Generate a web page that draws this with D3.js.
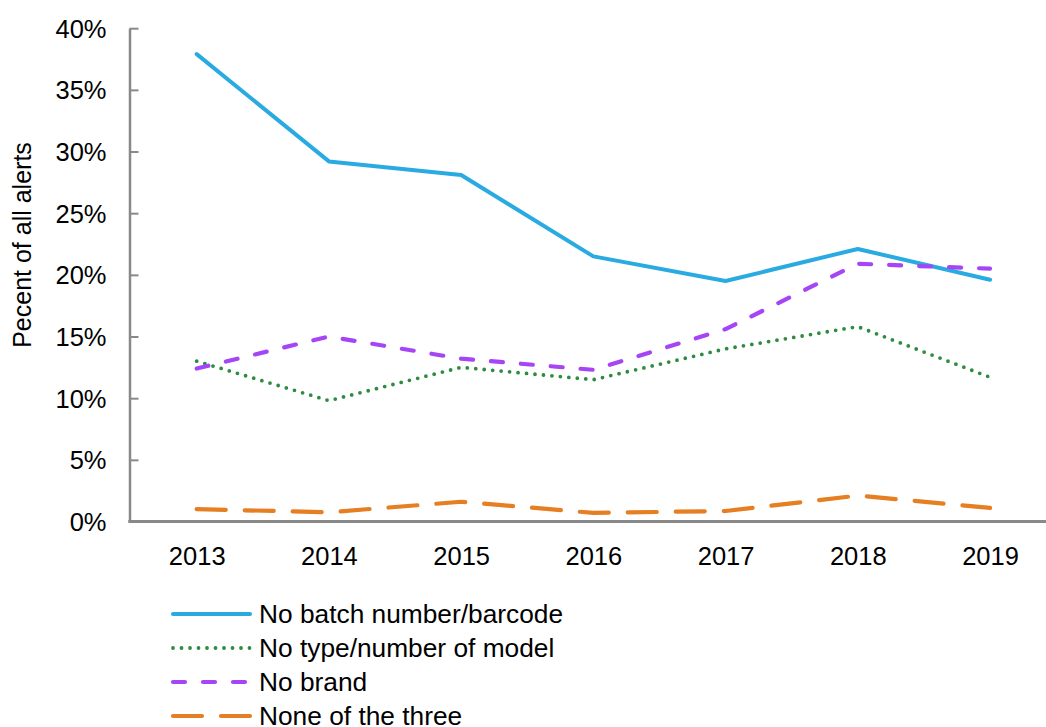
<!DOCTYPE html>
<html>
<head>
<meta charset="utf-8">
<script src="https://cdn.jsdelivr.net/npm/d3@7"></script>
<style>
  body { margin: 0; background: #fff; }
  svg text { font-family: "Liberation Sans", Arial, sans-serif; fill: #000; }
</style>
</head>
<body>
<div id="chart-container"></div>
<script>
// data
const years = ["2013", "2014", "2015", "2016", "2017", "2018", "2019"];
const noBatch = [37.9, 29.2, 28.1, 21.5, 19.5, 22.1, 19.6];
const noType = [13.0, 9.8, 12.5, 11.5, 14.0, 15.8, 11.7];
const noBrand = [12.4, 15.0, 13.2, 12.3, 15.6, 20.9, 20.5];
const noneOfThree = [1.0, 0.75, 1.6, 0.7, 0.85, 2.1, 1.1];
const yTicks = [0, 5, 10, 15, 20, 25, 30, 35, 40];
const seriesNames = ["No batch number/barcode", "No type/number of model", "No brand", "None of the three"];

const series = [
  {name: seriesNames[0], values: noBatch, color: "#29abe2", dash: null, width: 4},
  {name: seriesNames[1], values: noType, color: "#2e8b40", dash: "0 8.5", width: 3.8},
  {name: seriesNames[2], values: noBrand, color: "#a545f5", dash: "12 18", width: 4.2},
  {name: seriesNames[3], values: noneOfThree, color: "#e67e22", dash: "29 19", width: 4.2}
];

const svgWidth = 1046;
const svgHeight = 727;

const svg = d3.select('#chart-container')
  .append('svg')
  .attr('width', svgWidth)
  .attr('height', svgHeight);

const xScale = d3.scalePoint()
  .domain(years)
  .range([196.7, 990]);

const yScale = d3.scaleLinear()
  .domain([0, 40])
  .range([521.5, 28.2]);

const axisColor = "#898989";

// y axis (ticks point inward)
const yAxis = d3.axisRight(yScale)
  .tickValues(yTicks)
  .tickSize(9)
  .tickSizeOuter(0)
  .tickFormat(d => d + "%");

const gy = svg.append("g")
  .attr("transform", "translate(129.5,0)")
  .call(yAxis);
gy.select(".domain").attr("stroke", axisColor).attr("stroke-width", 2.5);
gy.selectAll(".tick line").attr("stroke", axisColor).attr("stroke-width", 2);
gy.selectAll(".tick text")
  .attr("x", -23)
  .attr("text-anchor", "end")
  .attr("dy", "0.35em")
  .style("font-size", "25.5px");

// x axis
const xAxis = d3.axisBottom(xScale)
  .tickSize(0)
  .tickSizeOuter(0);

const gx = svg.append("g")
  .attr("transform", "translate(0,521.5)")
  .call(xAxis);
gx.select(".domain").remove();
gx.append("line")
  .attr("x1", 128.3).attr("x2", 1056)
  .attr("y1", 0).attr("y2", 0)
  .attr("stroke", axisColor)
  .attr("stroke-width", 3);
gx.selectAll(".tick text")
  .attr("y", 35)
  .attr("dy", "0.35em")
  .style("font-size", "25.5px");

// y axis title (typo kept as in the original)
svg.append("text")
  .attr("transform", "translate(22,245) rotate(-90)")
  .attr("text-anchor", "middle")
  .attr("dy", "0.35em")
  .style("font-size", "25px")
  .text("Pecent of all alerts");

// lines
const line = d3.line()
  .x((d, i) => xScale(years[i]))
  .y(d => yScale(d));

series.forEach(s => {
  svg.append("path")
    .datum(s.values)
    .attr("d", line)
    .attr("fill", "none")
    .attr("stroke", s.color)
    .attr("stroke-width", s.width)
    .attr("stroke-linecap", "round")
    .attr("stroke-linejoin", "round")
    .attr("stroke-dasharray", s.dash);
});

// legend
const legend = svg.append("g");
series.forEach((s, i) => {
  const y = 614 + i * 34;
  legend.append("line")
    .attr("x1", 173).attr("x2", 250)
    .attr("y1", y).attr("y2", y)
    .attr("stroke", s.color)
    .attr("stroke-width", s.width)
    .attr("stroke-linecap", "round")
    .attr("stroke-dasharray", s.dash);
  legend.append("text")
    .attr("x", 259)
    .attr("y", y)
    .attr("dy", "0.35em")
    .style("font-size", "26.3px")
    .text(s.name);
});
</script>
</body>
</html>
